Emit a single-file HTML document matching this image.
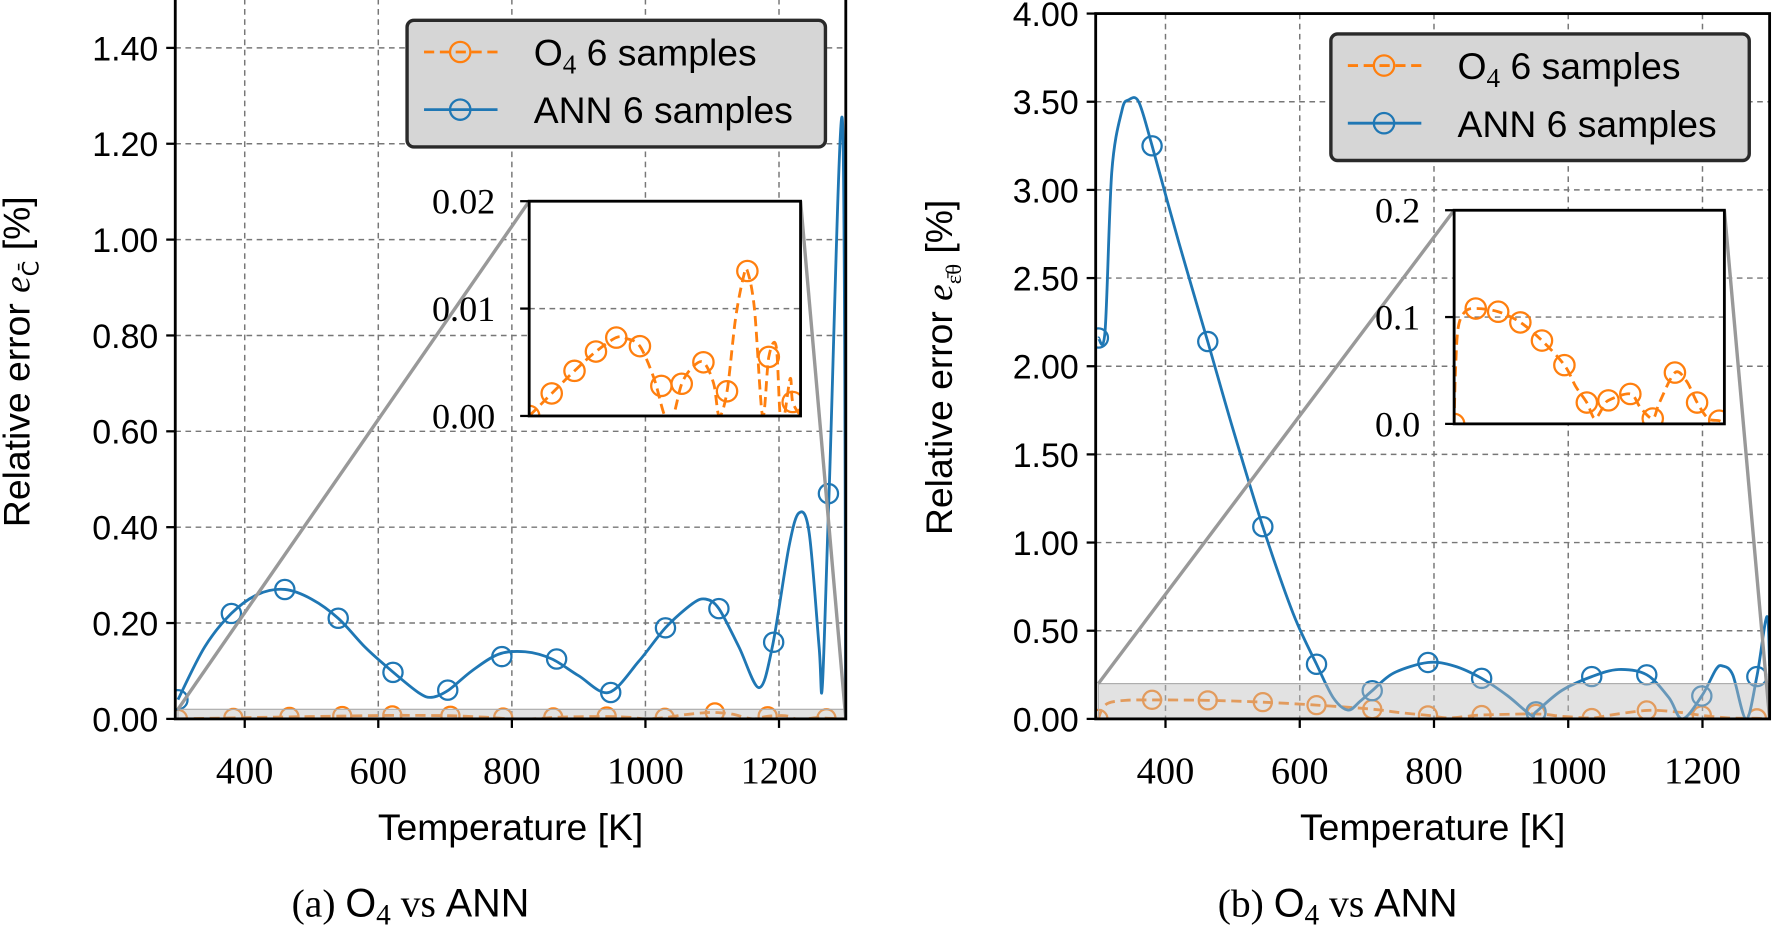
<!DOCTYPE html>
<html><head><meta charset="utf-8"><style>
html,body{margin:0;padding:0;background:#fff}
svg{display:block}
.tk{font-family:"Liberation Sans",sans-serif;font-size:30px;fill:#000}
.tks{font-family:"Liberation Serif",serif;font-size:30px;fill:#000}
.lab{font-family:"Liberation Sans",sans-serif;font-size:33px;fill:#000}
</style></head><body>
<svg id="fig" width="1773" height="928" viewBox="0 0 1568 821" preserveAspectRatio="none" xmlns="http://www.w3.org/2000/svg"></svg>
<script>
// ---- data: panel (a) ----
const aBlueX=[300,340,380,420,460,500,540,580,620,660,680,705,740,780,820,860,900,945,990,1030,1070,1090,1110,1140,1170,1190,1215,1230,1245,1260,1265,1275,1295,1300];
const aBlueY=[0.04,0.15,0.22,0.26,0.27,0.25,0.21,0.15,0.10,0.055,0.045,0.06,0.10,0.135,0.14,0.125,0.09,0.055,0.12,0.19,0.24,0.25,0.23,0.15,0.065,0.15,0.36,0.43,0.39,0.15,0.07,0.47,1.25,0.0];
const aBlueMX=[300,380,460,540,622,704,785,867,948,1030,1110,1192,1274];
const aBlueMY=[0.04,0.22,0.27,0.21,0.097,0.06,0.13,0.125,0.055,0.19,0.23,0.16,0.47];
const aOrX=[300,340,383,467,546,621,660,708,760,800,830,862,900,942,980,1000,1029,1060,1090,1104,1130,1160,1183,1210,1225,1240,1262,1271,1300];
const aOrY=[0,0.001,0.0021,0.0042,0.006,0.0073,0.0072,0.0065,0.0035,0,0,0.003,0.0045,0.005,0.003,0,0.0023,0.009,0.013,0.0135,0.01,0,0.0055,0.0065,0,0,0.0035,0.0013,0.0];
const aOrMX=[300,383,467,546,621,708,787,862,942,1029,1104,1183,1271];
const aOrMY=[0,0.0021,0.0042,0.006,0.0073,0.0065,0.0028,0.003,0.005,0.0023,0.0135,0.0055,0.0013];
const aYTicks=[0,0.2,0.4,0.6,0.8,1.0,1.2,1.4];
const aYLabels=["0.00","0.20","0.40","0.60","0.80","1.00","1.20","1.40"];
const aInsetTicks=[0,0.01,0.02];
const aInsetLabels=["0.00","0.01","0.02"];
// ---- data: panel (b) ----
const bBlueX=[300,310,320,335,345,360,380,420,463,500,545,590,625,650,672,690,708,740,791,830,871,910,945,952,990,1035,1075,1117,1150,1170,1199,1220,1230,1245,1265,1281,1296,1300];
const bBlueY=[2.16,2.2,3.1,3.45,3.51,3.5,3.25,2.7,2.14,1.65,1.09,0.6,0.31,0.12,0.05,0.1,0.16,0.26,0.32,0.3,0.23,0.13,0.02,0.04,0.16,0.24,0.28,0.25,0.12,0.0,0.13,0.28,0.3,0.25,0.0,0.24,0.58,0.3];
const bBlueMX=[300,380,463,545,625,708,791,871,952,1035,1117,1199,1281];
const bBlueMY=[2.16,3.25,2.14,1.09,0.31,0.16,0.32,0.23,0.04,0.24,0.25,0.13,0.24];
const bOrX=[300,305,315,340,380,463,545,625,708,750,791,820,850,871,952,990,1035,1060,1117,1160,1199,1240,1281,1300];
const bOrY=[0,0.05,0.09,0.105,0.108,0.105,0.095,0.078,0.055,0.035,0.02,0.005,0.015,0.022,0.028,0.015,0.005,0.02,0.048,0.04,0.02,0.005,0.003,0];
const bOrMX=[300,380,463,545,625,708,791,871,952,1035,1117,1199,1281];
const bOrMY=[0,0.108,0.105,0.095,0.078,0.055,0.02,0.022,0.028,0.005,0.048,0.02,0.003];
const bYTicks=[0,0.5,1,1.5,2,2.5,3,3.5,4];
const bYLabels=["0.00","0.50","1.00","1.50","2.00","2.50","3.00","3.50","4.00"];
const bInsetTicks=[0,0.1,0.2];
const bInsetLabels=["0.0","0.1","0.2"];
const xTicks=[400,600,800,1000,1200];

const NS="http://www.w3.org/2000/svg";
const svg=document.getElementById('fig');
function mk(tag,attrs,parent){const e=document.createElementNS(NS,tag);for(const k in attrs)e.setAttribute(k,attrs[k]);(parent||svg).appendChild(e);return e;}
function path(xs,ys,sx,sy){
  const P=xs.map((x,i)=>[sx(x),sy(ys[i])]);
  let d='M'+P[0][0].toFixed(1)+','+P[0][1].toFixed(1);
  for(let i=0;i<P.length-1;i++){
    const p0=P[i-1]||P[i],p1=P[i],p2=P[i+1],p3=P[i+2]||P[i+1];
    const t=0.16;
    const c1=[p1[0]+(p2[0]-p0[0])*t,p1[1]+(p2[1]-p0[1])*t];
    const c2=[p2[0]-(p3[0]-p1[0])*t,p2[1]-(p3[1]-p1[1])*t];
    d+='C'+c1.map(v=>v.toFixed(1))+' '+c2.map(v=>v.toFixed(1))+' '+p2.map(v=>v.toFixed(1));
  }
  return d;
}

function panel(p){
  const g=mk('g',{});
  
  
  const sx=x=>p.L+(x-296)*(p.R-p.L)/(1300-296);
  const sy=y=>p.B-(y/p.ymax)*(p.B-p.T);
  const clip=mk('clipPath',{id:p.id+'clip'},g);
  mk('rect',{x:p.L,y:p.T,width:p.R-p.L,height:p.B-p.T},clip);
  xTicks.forEach(t=>{const l=mk('line',{x1:sx(t),x2:sx(t),y1:p.T,y2:p.B,stroke:'#777','stroke-width':1.3,'stroke-dasharray':'5,4'},g);
    });
  p.yt.forEach(t=>{const l=mk('line',{x1:p.L,x2:p.R,y1:sy(t),y2:sy(t),stroke:'#777','stroke-width':1.3,'stroke-dasharray':'5,4'},g);
    });
  const pg=mk('g',{'clip-path':`url(#${p.id}clip)`},g);
  const o=mk('path',{d:path(p.ox,p.oy,sx,sy),fill:'none',stroke:'#ff7f0e','stroke-width':2.5,'stroke-dasharray':'9,5'},pg);
  
  p.omx.forEach((x,i)=>{const c=mk('circle',{cx:sx(x),cy:sy(p.omy[i]),r:8,fill:'none',stroke:'#ff7f0e','stroke-width':2},pg);
    });
  const b=mk('path',{d:path(p.bx,p.by,sx,sy),fill:'none',stroke:'#1f77b4','stroke-width':2.5},pg);
  
  p.bmx.forEach((x,i)=>{const c=mk('circle',{cx:sx(x),cy:sy(p.bmy[i]),r:8.5,fill:'none',stroke:'#1f77b4','stroke-width':2},pg);
    });
  const zr=mk('rect',{x:sx(300),y:sy(p.imax),width:sx(1300)-sx(300),height:sy(0)-sy(p.imax),fill:'rgba(190,190,190,0.45)',stroke:'#aaa','stroke-width':1},pg);
  
  mk('line',{x1:sx(300),y1:sy(p.imax),x2:p.iL,y2:p.iT,stroke:'#999','stroke-width':3},pg);
  mk('line',{x1:sx(1300),y1:sy(0),x2:p.iR,y2:p.iT,stroke:'#999','stroke-width':3},pg);
  const ax=mk('rect',{x:p.L,y:p.T,width:p.R-p.L,height:p.B-p.T,fill:'none',stroke:'#000','stroke-width':2.5},g);
  
  p.yt.forEach((t,i)=>{mk('line',{x1:p.L-8,x2:p.L,y1:sy(t),y2:sy(t),stroke:'#000','stroke-width':2},g);
    const tx=mk('text',{x:p.L-15,y:sy(t)+11,'text-anchor':'end',class:'tk'},g);tx.textContent=p.yl[i];
    });
  xTicks.forEach(t=>{mk('line',{x1:sx(t),x2:sx(t),y1:p.B,y2:p.B+8,stroke:'#000','stroke-width':2},g);
    const tx=mk('text',{x:sx(t),y:p.B+57,'text-anchor':'middle',class:'tks',style:'font-size:34px'},g);tx.textContent=t;
    });
  const xl=mk('text',{x:(p.L+p.R)/2,y:743,'text-anchor':'middle',class:'lab'},g);xl.textContent='Temperature [K]';
  
  const yl=mk('text',{transform:`translate(${p.ylx},${p.ylc}) rotate(-90)`,'text-anchor':'middle',class:'lab'},g);
  yl.innerHTML=p.ylab;
  
  const isx=x=>p.iL+(x-300)*(p.iR-p.iL)/1000;
  const isy=y=>p.iB-(y/p.imax)*(p.iB-p.iT);
  const ig=mk('g',{},g);
  
  mk('rect',{x:p.iL,y:p.iT,width:p.iR-p.iL,height:p.iB-p.iT,fill:'#fff'},ig);
  const ic=mk('clipPath',{id:p.id+'iclip'},ig);
  mk('rect',{x:p.iL,y:p.iT,width:p.iR-p.iL,height:p.iB-p.iT},ic);
  p.it.forEach((t,i)=>{mk('line',{x1:p.iL,x2:p.iR,y1:isy(t),y2:isy(t),stroke:'#777','stroke-width':1.3,'stroke-dasharray':'5,4'},ig);
    mk('line',{x1:p.iL-8,x2:p.iL,y1:isy(t),y2:isy(t),stroke:'#000','stroke-width':2},ig);
    const tx=mk('text',{x:p.iL-30,y:isy(t)+11,'text-anchor':'end',class:'tks',style:'font-size:32px'},ig);tx.textContent=p.il[i];
    });
  const ipg=mk('g',{'clip-path':`url(#${p.id}iclip)`},ig);
  const io=mk('path',{d:path(p.ox,p.oy,isx,isy),fill:'none',stroke:'#ff7f0e','stroke-width':2.5,'stroke-dasharray':'9,5'},ipg);
  
  p.omx.forEach((x,i)=>{const c=mk('circle',{cx:isx(x),cy:isy(p.omy[i]),r:9,fill:'none',stroke:'#ff7f0e','stroke-width':2},ipg);
    });
  mk('rect',{x:p.iL,y:p.iT,width:p.iR-p.iL,height:p.iB-p.iT,fill:'none',stroke:'#000','stroke-width':2.5},ig);
  const lg=mk('g',{},g);
  
  mk('rect',{x:p.lx,y:p.ly,width:370,height:112,rx:6,fill:'#d6d6d6',stroke:'#2a2a2a','stroke-width':3},lg);
  mk('line',{x1:p.lx+15,x2:p.lx+80,y1:p.ly+28,y2:p.ly+28,stroke:'#ff7f0e','stroke-width':2.5,'stroke-dasharray':'9,5'},lg);
  mk('circle',{cx:p.lx+47,cy:p.ly+28,r:9,fill:'none',stroke:'#ff7f0e','stroke-width':2},lg);
  mk('line',{x1:p.lx+15,x2:p.lx+80,y1:p.ly+79,y2:p.ly+79,stroke:'#1f77b4','stroke-width':2.5},lg);
  mk('circle',{cx:p.lx+47,cy:p.ly+79,r:9,fill:'none',stroke:'#1f77b4','stroke-width':2},lg);
  const t1=mk('text',{x:p.lx+112,y:p.ly+40,class:'lab'},lg);t1.innerHTML='O<tspan font-family="Liberation Serif" font-size="24" dy="7">4</tspan><tspan dy="-7"> 6 samples</tspan>';
  
  const t2=mk('text',{x:p.lx+112,y:p.ly+91,class:'lab'},lg);t2.textContent='ANN 6 samples';
  
  const cap=mk('text',{x:p.capx,y:811,'text-anchor':'middle',class:'lab',style:'font-size:35px'},g);
  cap.innerHTML=`<tspan font-family="Liberation Serif">(${p.id}) </tspan>O<tspan font-family="Liberation Serif" font-size="26" dy="7">4</tspan><tspan dy="-7" font-family="Liberation Serif"> vs </tspan>ANN`;
  
}
panel({id:'a',L:155,R:748,T:-10,B:636,ymax:1.5235,yt:aYTicks,yl:aYLabels,bx:aBlueX,by:aBlueY,bmx:aBlueMX,bmy:aBlueMY,
  ox:aOrX,oy:aOrY,omx:aOrMX,omy:aOrMY,imax:0.02,iL:468,iR:708,iT:178,iB:368,it:aInsetTicks,il:aInsetLabels,
  lx:360,ly:18,capx:363,ylx:26,ylc:320,ylab:'Relative error <tspan font-family="Liberation Serif" font-style="italic">e</tspan><tspan font-family="DejaVu Sans" font-size="20" dy="8">C̄</tspan><tspan dy="-8"> [%]</tspan>'});
panel({id:'b',L:969,R:1565,T:12,B:636,ymax:4.0,yt:bYTicks,yl:bYLabels,bx:bBlueX,by:bBlueY,bmx:bBlueMX,bmy:bBlueMY,
  ox:bOrX,oy:bOrY,omx:bOrMX,omy:bOrMY,imax:0.2,iL:1286,iR:1525,iT:186,iB:375,it:bInsetTicks,il:bInsetLabels,
  lx:1177,ly:30,capx:1183,ylx:842,ylc:325,ylab:'Relative error <tspan font-family="Liberation Serif" font-style="italic">e</tspan><tspan font-family="Liberation Serif" font-size="20" dy="8">ε̄θ</tspan><tspan dy="-8">  [%]</tspan>'});
</script>
</body></html>
